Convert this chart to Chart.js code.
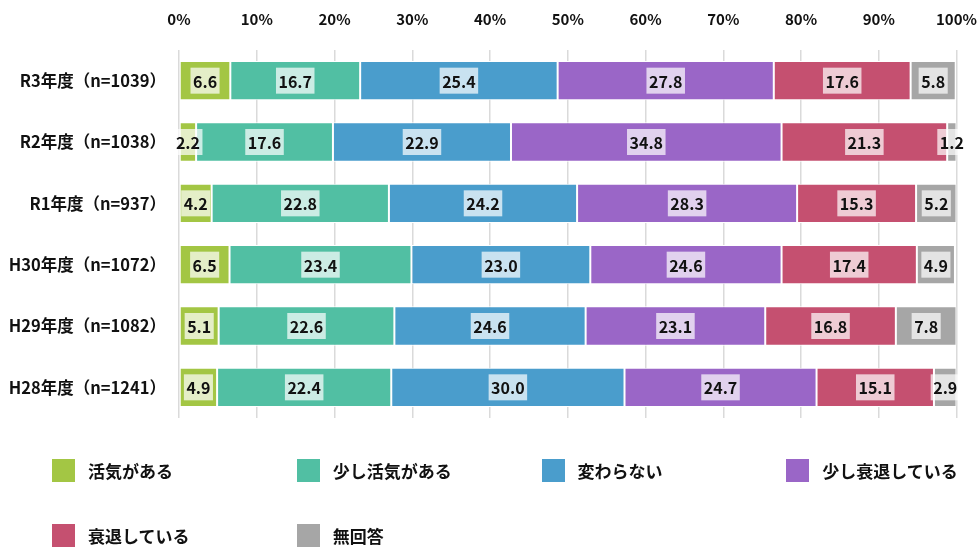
<!DOCTYPE html>
<html lang="ja">
<head>
<meta charset="utf-8">
<title>地域の活気</title>
<script src="https://cdn.jsdelivr.net/npm/chart.js@4/dist/chart.umd.min.js"></script>
<style>
  body { margin: 0; background: #fff; }
  #wrap { position: relative; width: 979px; height: 548px; }
  #myChart { position: absolute; left: 0; top: 0; }
  .lg-item {
    position: absolute; display: flex; align-items: center;
    font: bold 17px "Noto Sans CJK JP", sans-serif; color: #111;
    height: 23px; white-space: nowrap;
  }
  .lg-box { width: 23px; height: 23px; margin-right: 13px; }
</style>
</head>
<body>
<div id="wrap">
  <canvas id="myChart" width="979" height="548"></canvas>
  <div id="legend"></div>
</div>
<script>
// 年度ごとの回答割合（%）
const categories = [
  'R3年度（n=1039）',
  'R2年度（n=1038）',
  'R1年度（n=937）',
  'H30年度（n=1072）',
  'H29年度（n=1082）',
  'H28年度（n=1241）'
];
const seriesNames = ['活気がある', '少し活気がある', '変わらない', '少し衰退している', '衰退している', '無回答'];

const katsuki        = [6.6, 2.2, 4.2, 6.5, 5.1, 4.9];
const sukoshiKatsuki = [16.7, 17.6, 22.8, 23.4, 22.6, 22.4];
const kawaranai      = [25.4, 22.9, 24.2, 23.0, 24.6, 30.0];
const sukoshiSuitai  = [27.8, 34.8, 28.3, 24.6, 23.1, 24.7];
const suitai         = [17.6, 21.3, 15.3, 17.4, 16.8, 15.1];
const mukaitou       = [5.8, 1.2, 5.2, 4.9, 7.8, 2.9];

const xTicks = [0, 10, 20, 30, 40, 50, 60, 70, 80, 90, 100];

const seriesColors = ['#a3c644', '#51bfa3', '#4a9dcc', '#9a66c7', '#c55070', '#a6a6a6'];
const seriesValues = [katsuki, sukoshiKatsuki, kawaranai, sukoshiSuitai, suitai, mukaitou];

const FONT = '"Noto Sans CJK JP", sans-serif';

// 各区間の中央に値ラベル（半透明の白背景つき）
const valueLabels = {
  id: 'valueLabels',
  afterDatasetsDraw(chart) {
    const ctx = chart.ctx;
    ctx.save();
    ctx.font = 'bold 16px ' + FONT;
    ctx.textAlign = 'center';
    ctx.textBaseline = 'middle';
    chart.data.datasets.forEach((ds, i) => {
      chart.getDatasetMeta(i).data.forEach((bar, j) => {
        const text = ds.data[j].toFixed(1);
        const cx = (bar.x + bar.base) / 2;
        const cy = bar.y;
        const w = ctx.measureText(text).width + 5;
        const h = 26;
        ctx.fillStyle = 'rgba(255,255,255,0.7)';
        ctx.fillRect(cx - w / 2, cy - h / 2, w, h);
        ctx.fillStyle = '#111';
        ctx.fillText(text, cx, cy + 1);
      });
    });
    ctx.restore();
  }
};

const ctx = document.getElementById('myChart').getContext('2d');
const chart = new Chart(ctx, {
  type: 'bar',
  data: {
    labels: categories,
    datasets: seriesNames.map((name, i) => ({
      label: name,
      data: seriesValues[i],
      backgroundColor: seriesColors[i],
      borderColor: '#ffffff',
      borderWidth: 1,
      borderSkipped: false,
      categoryPercentage: 0.64,
      barPercentage: 1
    }))
  },
  options: {
    indexAxis: 'y',
    responsive: false,
    animation: false,
    layout: { padding: { left: 0, right: 0, top: 0, bottom: 130 } },
    plugins: {
      legend: { display: false },
      tooltip: { enabled: false }
    },
    scales: {
      x: {
        stacked: true,
        position: 'top',
        min: 0,
        max: 100,
        afterBuildTicks: (s) => { s.ticks = xTicks.map(v => ({ value: v })); },
        afterFit: (s) => { s.height = 50; },
        ticks: {
          padding: 2,
          maxRotation: 0,
          color: '#111',
          font: { family: FONT, size: 15, weight: 'bold' },
          callback: (v) => v + '%'
        },
        // 目盛り線は透明にして、ラベルと棒の間隔だけ確保する
        grid: { color: '#dadada', lineWidth: 1.5, drawTicks: true, tickLength: 20, tickColor: 'rgba(0,0,0,0)' },
        border: { display: false }
      },
      y: {
        stacked: true,
        afterFit: (s) => { s.width = 179; },
        ticks: {
          padding: 5,
          color: '#111',
          font: { family: FONT, size: 16.5, weight: 'bold' }
        },
        grid: { display: false },
        border: { display: false }
      }
    }
  },
  plugins: [valueLabels]
});

// 凡例（4列）
const legend = document.getElementById('legend');
seriesNames.forEach((name, i) => {
  const item = document.createElement('div');
  item.className = 'lg-item';
  item.style.left = (52 + (i % 4) * 244.75) + 'px';
  item.style.top = (459 + Math.floor(i / 4) * 65) + 'px';
  const box = document.createElement('span');
  box.className = 'lg-box';
  box.style.background = seriesColors[i];
  const label = document.createElement('span');
  label.textContent = name;
  item.appendChild(box);
  item.appendChild(label);
  legend.appendChild(item);
});
</script>
</body>
</html>
